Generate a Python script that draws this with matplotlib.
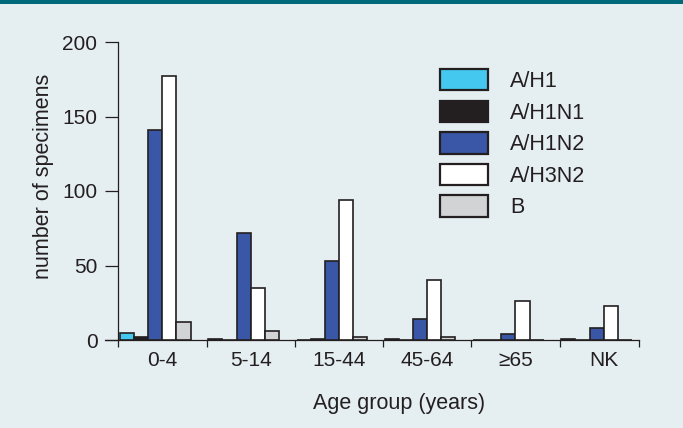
import numpy as np
import matplotlib
matplotlib.use("Agg")
import matplotlib.pyplot as plt
from matplotlib.patches import Patch, Rectangle

plt.rcParams["font.family"] = ["Liberation Sans", "DejaVu Sans"]

ages = ["0-4", "5-14", "15-44", "45-64", "\u226565", "NK"]
series = ["A/H1", "A/H1N1", "A/H1N2", "A/H3N2", "B"]
h1 = [5, 1, 0, 1, 0, 1]
h1n1 = [2, 0, 1, 0, 0, 0]
h1n2 = [141, 72, 53, 14, 4, 8]
h3n2 = [177, 35, 94, 40, 26, 23]
b = [12, 6, 2, 2, 0, 0]

colors = ["#45c8ef", "#231f20", "#3a56a6", "#ffffff", "#d2d3d5"]
ink = "#231f20"
bg = "#e5eef1"

fig = plt.figure(figsize=(6.83, 4.28), dpi=100, facecolor=bg)
fig.add_artist(Rectangle((0, 1 - 4 / 428), 1, 4 / 428, transform=fig.transFigure,
                         color="#006a7a", lw=0))
ax = fig.add_axes([105 / 683, 88 / 428, 534 / 683, 298 / 428])
ax.set_facecolor(bg)

x = np.arange(len(ages))
w = 0.16
for j, vals in enumerate([h1, h1n1, h1n2, h3n2, b]):
    ax.bar(x + 0.02 + j * w, vals, width=w, align="edge", color=colors[j],
           edgecolor=ink, linewidth=1.2, zorder=3)

ax.set_xlim(-0.15, 5.9)
ax.set_ylim(0, 200)
for s in ["top", "right"]:
    ax.spines[s].set_visible(False)
ax.spines["left"].set_position(("data", 0))
for s in ["left", "bottom"]:
    ax.spines[s].set_color(ink)
    ax.spines[s].set_linewidth(0.9)

ax.set_yticks([0, 50, 100, 150, 200])
ax.tick_params(axis="y", length=9.5, width=0.9, color=ink, labelcolor=ink,
               labelsize=15, pad=5.5)
ax.set_xticks(list(x) + [5.9])
ax.set_xticklabels([])
ax.set_xticks(x + 0.5, ages, minor=True)
ax.tick_params(axis="x", which="major", length=5, width=0.9, color=ink)
ax.tick_params(axis="x", which="minor", length=0, labelsize=15, labelcolor=ink, pad=8)

fig.text(44 / 683, 1 - 176 / 428, "number of specimens", rotation=90,
         ha="center", va="center", fontsize=15.5, color=ink)
fig.text(399 / 683, 1 - 403 / 428, "Age group (years)", ha="center", va="center",
         fontsize=15.5, color=ink)

handles = [Patch(facecolor=c, edgecolor=ink, linewidth=1.6) for c in colors]
fig.legend(handles, series, loc="upper left", bbox_to_anchor=(440 / 683, 1 - 69 / 428),
           bbox_transform=fig.transFigure, frameon=False, fontsize=15.5,
           handlelength=2.23, handleheight=1.15, handletextpad=1.02,
           labelspacing=0.4, borderpad=0, borderaxespad=0, labelcolor=ink)

fig.savefig("out.png", dpi=100, facecolor=bg)
